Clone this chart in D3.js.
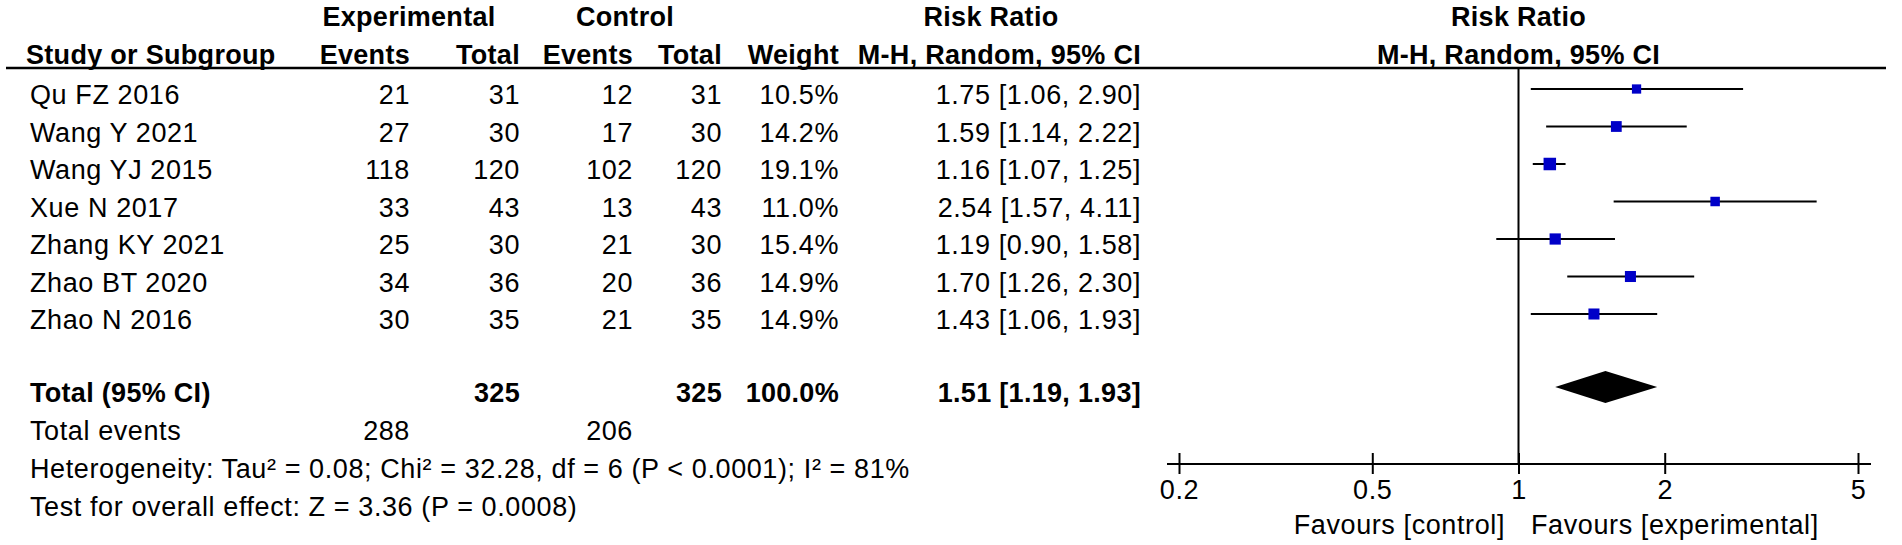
<!DOCTYPE html>
<html>
<head>
<meta charset="utf-8">
<script src="https://cdn.jsdelivr.net/npm/d3@7"></script>
<style>
    html, body { margin: 0; padding: 0; background: #ffffff; }
    svg text { font-family: "Liberation Sans", Arial, sans-serif; font-size: 27px; fill: #000; letter-spacing: 0.6px; }
    svg text.bold { font-weight: bold; letter-spacing: 0.3px; }
</style>
</head>
<body>
<div id="chart"></div>
<script>
// Study level data
const studies = ['Qu FZ 2016', 'Wang Y 2021', 'Wang YJ 2015', 'Xue N 2017', 'Zhang KY 2021', 'Zhao BT 2020', 'Zhao N 2016'];
const expEvents = [21, 27, 118, 33, 25, 34, 30];
const expTotal = [31, 30, 120, 43, 30, 36, 35];
const ctrlEvents = [12, 17, 102, 13, 21, 20, 21];
const ctrlTotal = [31, 30, 120, 43, 30, 36, 35];
const weights = [10.5, 14.2, 19.1, 11.0, 15.4, 14.9, 14.9];
const riskRatio = [1.75, 1.59, 1.16, 2.54, 1.19, 1.70, 1.43];
const ciLower = [1.06, 1.14, 1.07, 1.57, 0.90, 1.26, 1.06];
const ciUpper = [2.90, 2.22, 1.25, 4.11, 1.58, 2.30, 1.93];

// Pooled result
const pooled = [1.51, 1.19, 1.93];          // RR, lower, upper
const pooledTotals = [325, 325];            // experimental, control
const pooledEvents = [288, 206];            // experimental, control
const pooledWeight = 100.0;

const xTicks = [0.2, 0.5, 1, 2, 5];
const heterogeneityText = 'Heterogeneity: Tau\u00b2 = 0.08; Chi\u00b2 = 32.28, df = 6 (P < 0.0001); I\u00b2 = 81%';
const overallText = 'Test for overall effect: Z = 3.36 (P = 0.0008)';

const width = 1902, height = 545;

// column anchors (right edge for numbers)
const col = {
    study: 30,
    expEvents: 410,
    expTotal: 520,
    ctrlEvents: 633,
    ctrlTotal: 722,
    weight: 839,
    ci: 1141
};

const svg = d3.select('#chart')
    .append('svg')
    .attr('width', width)
    .attr('height', height);

const fmt2 = d3.format('.2f');
const fmt1 = d3.format('.1f');
const ciText = (r, l, u) => `${fmt2(r)} [${fmt2(l)}, ${fmt2(u)}]`;

// Scales
const x = d3.scaleLog().domain([0.2, 5]).range([1179, 1858]);
const rowY = d3.scaleLinear().domain([0, studies.length - 1]).range([95, 320]);
const boxSize = d3.scaleSqrt().domain([0, d3.max(weights)]).range([0, 12.5]);

const totalY = 393;
const eventsY = 431;
const hetY = 469;
const testY = 507;
const markOffset = -6;

function addText(txt, xPos, yPos, anchor, bold) {
    return svg.append('text')
        .attr('class', bold ? 'bold' : null)
        .attr('x', xPos)
        .attr('y', yPos)
        .attr('dy', '0.35em')
        .attr('text-anchor', anchor)
        .text(txt);
}

// Headers
addText('Experimental', 409, 17, 'middle', true);
addText('Control', 625, 17, 'middle', true);
addText('Risk Ratio', 991, 17, 'middle', true);
addText('Risk Ratio', x(1), 17, 'middle', true);

addText('Study or Subgroup', 26, 55, 'start', true);
addText('Events', col.expEvents, 55, 'end', true);
addText('Total', col.expTotal, 55, 'end', true);
addText('Events', col.ctrlEvents, 55, 'end', true);
addText('Total', col.ctrlTotal, 55, 'end', true);
addText('Weight', col.weight, 55, 'end', true);
addText('M-H, Random, 95% CI', col.ci, 55, 'end', true);
addText('M-H, Random, 95% CI', x(1), 55, 'middle', true);

svg.append('line')
    .attr('x1', 6).attr('x2', 1886)
    .attr('y1', 68).attr('y2', 68)
    .attr('stroke', '#000')
    .attr('stroke-width', 2.5);

// Study rows
studies.forEach((s, i) => {
    const y = rowY(i);
    addText(s, col.study, y, 'start', false);
    addText(expEvents[i], col.expEvents, y, 'end', false);
    addText(expTotal[i], col.expTotal, y, 'end', false);
    addText(ctrlEvents[i], col.ctrlEvents, y, 'end', false);
    addText(ctrlTotal[i], col.ctrlTotal, y, 'end', false);
    addText(fmt1(weights[i]) + '%', col.weight, y, 'end', false);
    addText(ciText(riskRatio[i], ciLower[i], ciUpper[i]), col.ci, y, 'end', false);
});

// Totals
addText('Total (95% CI)', col.study, totalY, 'start', true);
addText(pooledTotals[0], col.expTotal, totalY, 'end', true);
addText(pooledTotals[1], col.ctrlTotal, totalY, 'end', true);
addText(fmt1(pooledWeight) + '%', col.weight, totalY, 'end', true);
addText(ciText(pooled[0], pooled[1], pooled[2]), col.ci, totalY, 'end', true);

addText('Total events', col.study, eventsY, 'start', false);
addText(pooledEvents[0], col.expEvents, eventsY, 'end', false);
addText(pooledEvents[1], col.ctrlEvents, eventsY, 'end', false);

addText(heterogeneityText, col.study, hetY, 'start', false);
addText(overallText, col.study, testY, 'start', false);

// Forest plot
const axisY = 464;
const plot = svg.append('g');

// null line
plot.append('line')
    .attr('x1', x(1)).attr('x2', x(1))
    .attr('y1', 68).attr('y2', axisY)
    .attr('stroke', '#000')
    .attr('stroke-width', 2);

const rows = plot.selectAll('.study-mark')
    .data(studies.map((s, i) => ({ i: i, rr: riskRatio[i], lo: ciLower[i], hi: ciUpper[i], w: weights[i] })))
    .enter()
    .append('g')
    .attr('class', 'study-mark');

rows.append('line')
    .attr('x1', d => x(d.lo))
    .attr('x2', d => x(d.hi))
    .attr('y1', d => rowY(d.i) + markOffset)
    .attr('y2', d => rowY(d.i) + markOffset)
    .attr('stroke', '#000')
    .attr('stroke-width', 2);

rows.append('rect')
    .attr('x', d => x(d.rr) - boxSize(d.w) / 2)
    .attr('y', d => rowY(d.i) + markOffset - boxSize(d.w) / 2)
    .attr('width', d => boxSize(d.w))
    .attr('height', d => boxSize(d.w))
    .attr('fill', '#0000c8');

// pooled diamond
const dy = totalY + markOffset;
plot.append('path')
    .attr('d', `M${x(pooled[1])},${dy} L${x(pooled[0])},${dy - 16} L${x(pooled[2])},${dy} L${x(pooled[0])},${dy + 16} Z`)
    .attr('fill', '#000');

// axis
const axis = d3.axisBottom(x)
    .tickValues(xTicks)
    .tickFormat(d => d)
    .tickSize(10)
    .tickPadding(10);

const axisG = plot.append('g')
    .attr('transform', `translate(0,${axisY})`)
    .call(axis);

axisG.select('.domain').remove();
axisG.selectAll('.tick line')
    .attr('y1', -11)
    .attr('y2', 10)
    .attr('stroke', '#000')
    .attr('stroke-width', 2);
axisG.selectAll('.tick text')
    .attr('font-family', null)
    .attr('font-size', null)
    .attr('fill', null)
    .attr('y', 26)
    .attr('dy', '0.35em');

axisG.append('line')
    .attr('x1', x.range()[0] - 12)
    .attr('x2', x.range()[1] + 13)
    .attr('stroke', '#000')
    .attr('stroke-width', 2);

addText('Favours [control]', 1505, 525, 'end', false);
addText('Favours [experimental]', 1531, 525, 'start', false);
</script>
</body>
</html>
